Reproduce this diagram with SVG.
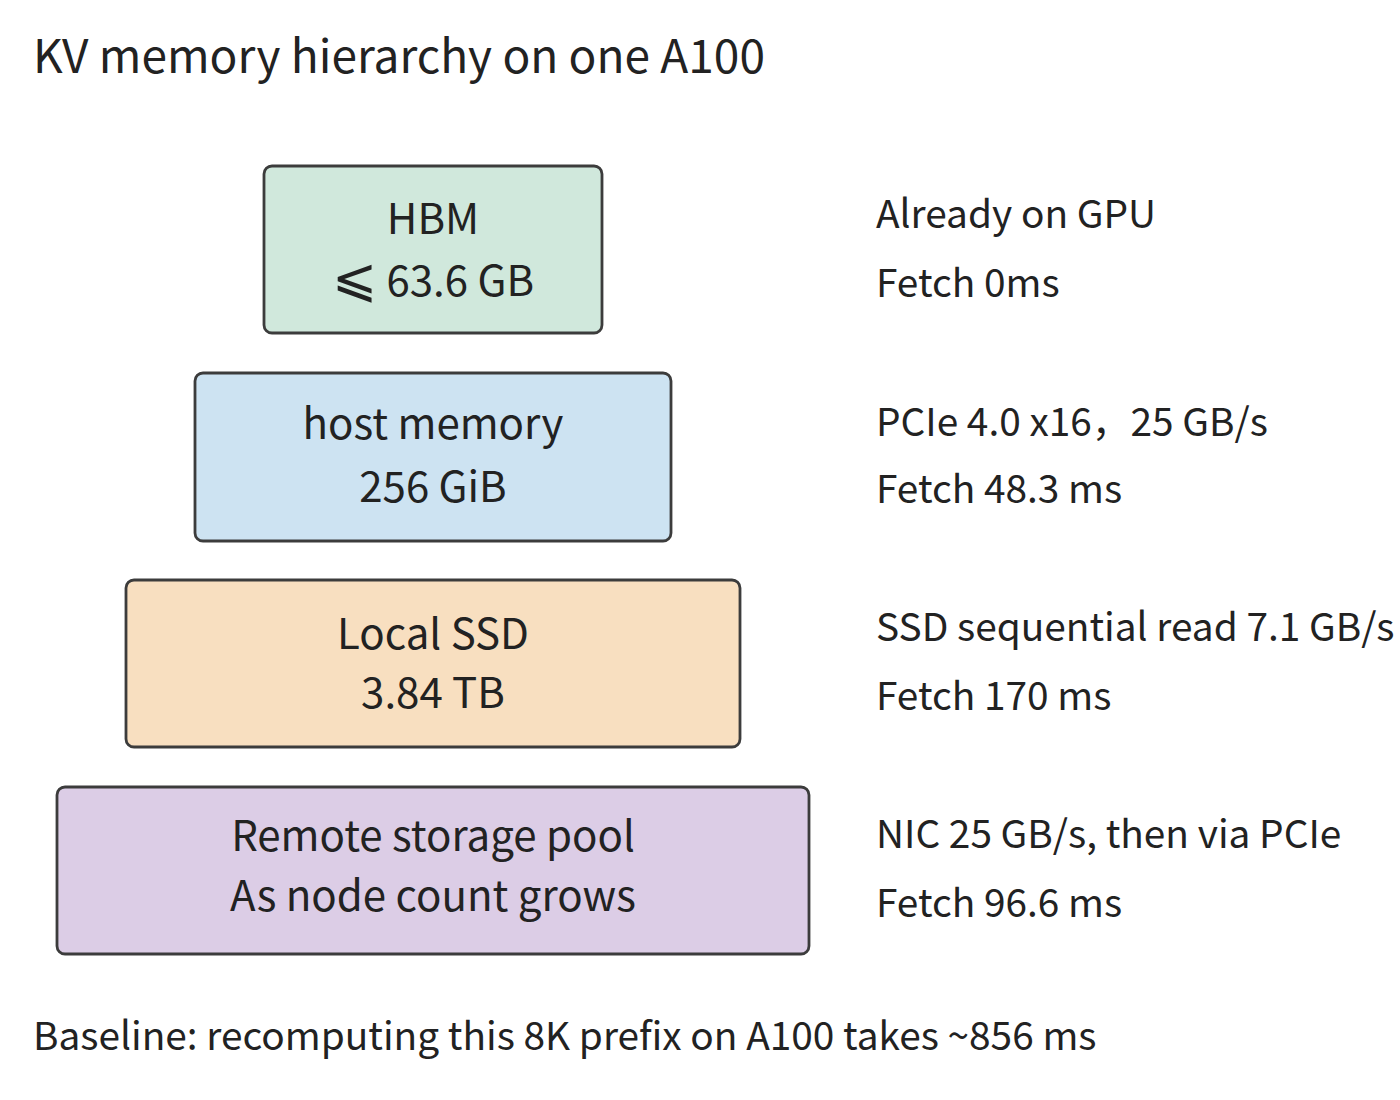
<svg xmlns="http://www.w3.org/2000/svg" width="1400" height="1100" viewBox="0 0 1400 1100">
<style>
text{font-family:"Noto Sans CJK SC","Noto Sans",sans-serif;fill:#222}
.box{stroke:#3c3c3c;stroke-width:2.8}
.lbl{font-size:42px;text-anchor:middle}
.side{font-size:38.8px}
.title{font-size:46px}
.sym{font-size:54px}
</style>
<rect width="1400" height="1100" fill="#fff"/>
<text class="title" x="33" y="73">KV memory hierarchy on one A100</text>
<g id="hbm">
<rect class="box" x="264" y="166" width="338" height="167" rx="8" fill="#d0e8dc"/>
<text class="lbl" x="433" y="234">HBM</text>
<text class="lbl" x="433" y="296"><tspan class="sym">⩽</tspan> 63.6 GB</text>
</g>
<g id="host">
<rect class="box" x="195" y="373" width="476" height="168" rx="8" fill="#cde3f2"/>
<text class="lbl" x="433" y="439">host memory</text>
<text class="lbl" x="433" y="502">256 GiB</text>
</g>
<g id="ssd">
<rect class="box" x="126" y="580" width="614" height="167" rx="8" fill="#f8dfc0"/>
<text class="lbl" x="433" y="649">Local SSD</text>
<text class="lbl" x="433" y="708">3.84 TB</text>
</g>
<g id="remote">
<rect class="box" x="57" y="787" width="752" height="167" rx="8" fill="#dccde6"/>
<text class="lbl" x="433" y="851">Remote storage pool</text>
<text class="lbl" x="433" y="911">As node count grows</text>
</g>
<g id="notes">
<text class="side" x="876" y="228">Already on GPU</text>
<text class="side" x="876" y="297">Fetch 0ms</text>
<text class="side" x="876" y="436">PCIe 4.0 x16，25 GB/s</text>
<text class="side" x="876" y="503">Fetch 48.3 ms</text>
<text class="side" x="876" y="641">SSD sequential read 7.1 GB/s</text>
<text class="side" x="876" y="710">Fetch 170 ms</text>
<text class="side" x="876" y="848">NIC 25 GB/s, then via PCIe</text>
<text class="side" x="876" y="917">Fetch 96.6 ms</text>
</g>
<text class="side" x="33" y="1050">Baseline: recomputing this 8K prefix on A100 takes ~856 ms</text>
<g id="connectors"/>
</svg>
